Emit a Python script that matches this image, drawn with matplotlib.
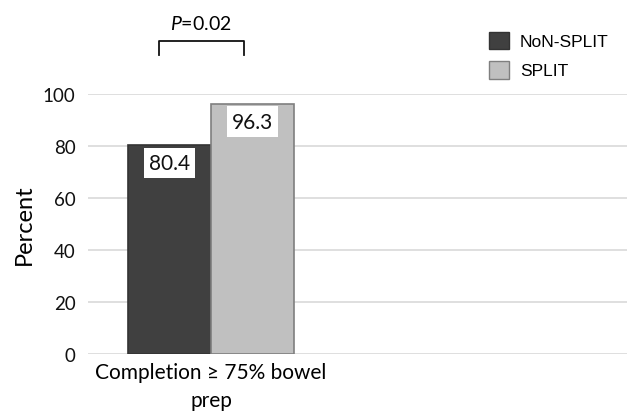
import matplotlib
matplotlib.use("Agg")
import matplotlib.pyplot as plt
from matplotlib.patches import Patch

# Data
category = "Completion \u2265 75% bowel\nprep"
groups = ["NoN-SPLIT", "SPLIT"]
values = [80.4, 96.3]
p_label = "$\\mathit{P}$=0.02"

DARK = "#404040"
LIGHT = "#c0c0c0"
GRID = "#d9d9d9"

plt.rcParams["font.family"] = ["Lato", "DejaVu Sans"]
plt.rcParams["mathtext.fontset"] = "custom"
plt.rcParams["mathtext.rm"] = "Lato"
plt.rcParams["mathtext.it"] = "Lato:italic"

fig = plt.figure(figsize=(6.27, 4.14), dpi=100)
ax = fig.add_axes([88 / 627, 1 - 355 / 414, 1 - 88 / 627, 260 / 414])

width = 0.5
offsets = [-width / 2, width / 2]
colors = [DARK, LIGHT]
edges = ["#333333", "#7f7f7f"]
for off, v, c, e in zip(offsets, values, colors, edges):
    ax.bar(off, v, width=width, color=c, edgecolor=e, linewidth=1.2, zorder=3)
    ax.text(off, v - 6.9, f"{v:.1f}", ha="center", va="center", fontsize=15,
            color="#111111", zorder=4,
            bbox=dict(boxstyle="square,pad=0.25", facecolor="white", edgecolor="none"))

ax.set_xlim(-0.741, 2.506)
ax.set_ylim(0, 100)
ax.set_yticks(range(0, 101, 20))
ax.tick_params(axis="y", length=0, labelsize=13.5, pad=9, labelcolor="#111111")
ax.set_xticks([0])
ax.set_xticklabels([category], fontsize=15, linespacing=1.5)
ax.tick_params(axis="x", length=0, pad=6)
ax.yaxis.grid(True, color=GRID, linewidth=1.2, zorder=0)
for s in ax.spines.values():
    s.set_visible(False)
ax.set_ylabel("Percent", fontsize=17, labelpad=6)

# significance bracket
bx0, bx1 = -0.313, 0.199
ax.plot([bx0, bx0, bx1, bx1], [115, 120.4, 120.4, 115], color="#111111",
        linewidth=1.3, clip_on=False)
ax.text(-0.06, 127.3, p_label, ha="center", va="center", fontsize=14,
        clip_on=False)

handles = [Patch(facecolor=c, edgecolor=e, linewidth=1) for c, e in zip(colors, edges)]
fig.legend(handles, groups, loc="upper left", bbox_to_anchor=(473 / 627, 1 - 17 / 414),
           frameon=False, prop={"family": "Liberation Sans", "size": 12.5},
           handlelength=1.2, handleheight=1.2, handletextpad=0.6, labelspacing=0.65)

fig.savefig("out.png", dpi=100)
